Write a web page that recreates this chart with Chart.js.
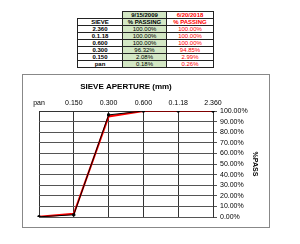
<!DOCTYPE html>
<html>
<head>
<meta charset="utf-8">
<script src="https://cdn.jsdelivr.net/npm/chart.js@4.4.1/dist/chart.umd.min.js"></script>
<style>
  html, body { margin: 0; padding: 0; background: #fff; }
  body { width: 300px; height: 244px; position: relative; overflow: hidden; font-family: "Liberation Sans", Arial, sans-serif; }
  #sieve-table { position: absolute; left: 77px; top: 11px; border-collapse: collapse; table-layout: fixed; font-size: 6px; line-height: 6px; }
  #sieve-table td { padding: 0; height: 6px; text-align: center; border: 1px solid #222; white-space: nowrap; overflow: hidden; }
  #sieve-table td.blank { border: none; }
  #sieve-table td.size { font-weight: bold; }
  #sieve-table td.old { background: #d3e7c4; color: #000; }
  #sieve-table td.new { color: #ff0000; }
  #sieve-table tr.head td { font-weight: bold; }
  #chart-box { position: absolute; left: 22px; top: 74px; width: 248px; height: 154px; border: 1px solid #888; box-sizing: border-box; }
  #chart-wrap { position: absolute; left: 23px; top: 75px; width: 247px; height: 153px; }
</style>
</head>
<body>
<table id="sieve-table">
  <colgroup><col style="width:45px"><col style="width:44px"><col style="width:47px"></colgroup>
  <tbody id="sieve-body"></tbody>
</table>
<div id="chart-box"></div>
<div id="chart-wrap"><canvas id="grading-chart" width="247" height="153"></canvas></div>
<script>
// sieve sizes, coarsest first (table order)
const sieves = ['2.360', '0.1.18', '0.600', '0.300', '0.150', 'pan'];
const dates = ['9/15/2009', '6/20/2018'];
const passing2009 = [100, 100, 100, 96.32, 2.08, 0.18];
const passing2018 = [100, 100, 100, 94.85, 2.99, 0.26];
const yTicks = [0, 10, 20, 30, 40, 50, 60, 70, 80, 90, 100];

const fmt = (v) => v.toFixed(2) + '%';

// table
const body = document.getElementById('sieve-body');
const addRow = (cells, cls) => {
    const tr = document.createElement('tr');
    if (cls) tr.className = cls;
    cells.forEach(([text, c]) => {
        const td = document.createElement('td');
        td.textContent = text;
        if (c) td.className = c;
        tr.appendChild(td);
    });
    body.appendChild(tr);
};
addRow([['', 'blank'], [dates[0], 'old'], [dates[1], 'new']], 'head');
addRow([['SIEVE'], ['% PASSING', 'old'], ['% PASSING', 'new']], 'head');
sieves.forEach((s, i) => {
    addRow([[s, 'size'], [fmt(passing2009[i]), 'old'], [fmt(passing2018[i]), 'new']]);
});

// chart goes fine to coarse, left to right
const labels = sieves.slice().reverse();
const series2009 = passing2009.slice().reverse();
const series2018 = passing2018.slice().reverse();

new Chart(document.getElementById('grading-chart').getContext('2d'), {
    type: 'line',
    data: {
        labels,
        datasets: [
            {
                label: dates[0],
                data: series2009,
                borderColor: '#000000',
                backgroundColor: '#000000',
                borderWidth: 1,
                pointStyle: 'rect',
                pointRadius: 1.5,
                tension: 0,
                order: 1,
            },
            {
                label: dates[1],
                data: series2018,
                borderColor: '#ff0000',
                backgroundColor: '#ff0000',
                borderWidth: 2,
                pointRadius: 0,
                tension: 0,
                order: 2,
            },
        ],
    },
    options: {
        responsive: false,
        animation: false,
        maintainAspectRatio: false,
        layout: { padding: { left: 16, right: 0, top: 0, bottom: 11 } },
        plugins: {
            legend: { display: false },
            tooltip: { enabled: false },
        },
        scales: {
            x: {
                position: 'top',
                offset: false,
                grid: { color: '#333', lineWidth: 1, drawTicks: false },
                border: { color: '#333' },
                ticks: { color: '#000', font: { family: 'Liberation Sans', size: 7 }, padding: 4, maxRotation: 0, autoSkip: false },
                title: {
                    display: true,
                    text: 'SIEVE APERTURE (mm)',
                    color: '#000',
                    font: { family: 'Liberation Sans', size: 8, weight: 'bold' },
                    padding: { top: 7, bottom: 0 },
                },
                afterFit: (scale) => { scale.height = 36; },
            },
            y: {
                position: 'right',
                min: 0,
                max: 100,
                afterBuildTicks: (scale) => { scale.ticks = yTicks.map((v) => ({ value: v })); },
                grid: { color: '#555', lineWidth: 1, tickLength: 4 },
                border: { color: '#333' },
                ticks: { color: '#000', font: { family: 'Liberation Sans', size: 7 }, padding: 3, autoSkip: false, callback: (v) => fmt(v) },
                title: {
                    display: true,
                    text: '%PASS',
                    color: '#000',
                    font: { family: 'Liberation Sans', size: 7, weight: 'bold' },
                    padding: { top: 11, bottom: 0 },
                },
                afterFit: (scale) => { scale.width = 57; },
            },
        },
    },
});
</script>
</body>
</html>
